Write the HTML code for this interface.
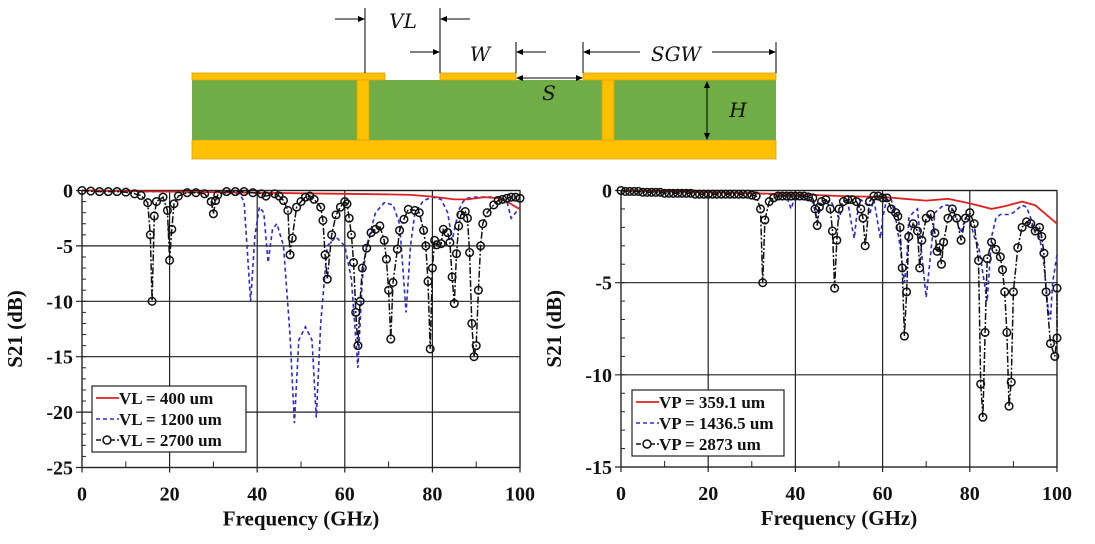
<!DOCTYPE html>
<html><head><meta charset="utf-8"><style>
html,body{margin:0;padding:0;background:#fff;width:1095px;height:544px;overflow:hidden}
svg{display:block}
text{font-family:"Liberation Serif",serif;font-weight:bold;fill:#111}
</style></head><body>
<svg id="root" width="1095" height="544" viewBox="0 0 1095 544">
<g>
  <rect x="192" y="140" width="584" height="19" fill="#FFC000" stroke="#d9a400" stroke-width="0.8"/>
  <rect x="192" y="80" width="584" height="60" fill="#70AD47"/>
  <rect x="192" y="73" width="193" height="7" fill="#FFC000" stroke="#d9a400" stroke-width="0.8"/>
  <rect x="440" y="73" width="76" height="7" fill="#FFC000" stroke="#d9a400" stroke-width="0.8"/>
  <rect x="583" y="73" width="193" height="7" fill="#FFC000" stroke="#d9a400" stroke-width="0.8"/>
  <rect x="357" y="80" width="12" height="60" fill="#FFC000" stroke="#d9a400" stroke-width="0.8"/>
  <rect x="602" y="80" width="12" height="60" fill="#FFC000" stroke="#d9a400" stroke-width="0.8"/>
  <g stroke="#000" stroke-width="1" fill="none">
    <line x1="365" y1="8" x2="365" y2="73"/><line x1="440" y1="8" x2="440" y2="73"/>
    <line x1="516" y1="42" x2="516" y2="73"/><line x1="583" y1="42" x2="583" y2="73"/>
    <line x1="776" y1="42" x2="776" y2="73"/>
    <line x1="335" y1="19" x2="362" y2="19"/><line x1="443" y1="19" x2="470" y2="19"/>
    <line x1="410" y1="52" x2="437" y2="52"/><line x1="519" y1="52" x2="546" y2="52"/>
    <line x1="519" y1="78" x2="580" y2="78"/>
    <line x1="586" y1="52" x2="640" y2="52"/><line x1="712" y1="52" x2="773" y2="52"/>
    <line x1="707" y1="84" x2="707" y2="138"/>
  </g>
  <g fill="#000">
    <polygon points="365,19 358,16 358,22"/><polygon points="440,19 447,16 447,22"/>
    <polygon points="440,52 433,49 433,55"/><polygon points="516,52 523,49 523,55"/>
    <polygon points="516,78 523,75 523,81"/><polygon points="583,78 576,75 576,81"/>
    <polygon points="583,52 590,49 590,55"/><polygon points="776,52 769,49 769,55"/>
    <polygon points="707,81 704,88 710,88"/><polygon points="707,140 704,133 710,133"/>
  </g>
  <g>
    <text x="403" y="28" font-size="20" text-anchor="middle" style="font-weight:normal;font-family:'DejaVu Serif',serif;font-style:italic">VL</text>
    <text x="480" y="61" font-size="20" text-anchor="middle" style="font-weight:normal;font-family:'DejaVu Serif',serif;font-style:italic">W</text>
    <text x="549" y="100" font-size="20" text-anchor="middle" style="font-weight:normal;font-family:'DejaVu Serif',serif;font-style:italic">S</text>
    <text x="676" y="61" font-size="20" text-anchor="middle" style="font-weight:normal;font-family:'DejaVu Serif',serif;font-style:italic">SGW</text>
    <text x="738" y="117" font-size="20" text-anchor="middle" style="font-weight:normal;font-family:'DejaVu Serif',serif;font-style:italic">H</text>
  </g>
</g>
<g id="chartL"></g>
<g id="chartR"></g>
</svg>
<script>
// Left chart data (GHz, dB)
const L_redX=[0,10,20,30,40,50,60,70,75,80,85,88,92,95,97,100];
const L_redY=[0,-0.05,-0.1,-0.15,-0.2,-0.25,-0.3,-0.35,-0.4,-0.55,-0.8,-0.8,-0.6,-0.7,-1.0,-1.7];
const L_blueX=[0,14,20,30,36,37,38.5,39.5,40.5,41.5,42.5,43.5,44.5,46,47.5,48.5,49.5,51,52.5,53.5,54.5,56,58,60,61.5,63,64,65,67,69,71,72.5,74,75,76,78,80,82,83.5,84.5,86,87,88,90,92,94,96,97,98,99,100];
const L_blueY=[0,-0.1,-0.1,-0.15,-0.3,-1,-10,-4,-1.5,-2,-6.5,-3.5,-3,-5,-13,-21,-13.5,-12.3,-13.5,-20.5,-12,-5,-4.2,-5,-8,-16,-8,-5,-2,-1.1,-1.3,-3,-11,-5,-2,-0.9,-0.6,-0.8,-2,-4.5,-1.8,-1,-0.7,-0.6,-0.6,-0.6,-0.7,-1,-2.5,-2,-1.5];
const L_blackX=[0,2,4,6,8,10,12,13.5,15,15.6,16,16.5,17,18.5,19.5,20,20.5,21,22,24,26,28,29.5,30,30.5,31,33,35,37,39,41,42,44,45,46,47,47.5,48,49,50,51,52,53,54.5,55,55.5,56,57,58,59,60,60.5,61,61.5,62,62.5,63,63.5,64,65,66,67,68,69,69.5,70,70.5,71,72,72.5,73.5,74.5,76,77,78,78.5,79,79.5,80,80.5,81,82,82.5,83.5,84,84.5,85,85.5,86,86.5,87.5,88,88.5,89,89.5,90,90.5,91,91.5,92.5,94,95,96,97,98,99,100];
const L_blackY=[0,-0.05,-0.1,-0.1,-0.1,-0.15,-0.3,-0.45,-1.1,-4,-10,-2.3,-1,-0.6,-1.8,-6.3,-3.5,-1.2,-0.5,-0.2,-0.2,-0.3,-1,-2.1,-0.9,-0.4,-0.1,-0.1,-0.1,-0.2,-0.3,-0.5,-0.3,-0.5,-0.9,-1.8,-5.8,-4.3,-1.5,-1,-0.6,-0.5,-0.8,-1.5,-2.7,-5.8,-8,-4,-2.2,-1.5,-1,-1.2,-2.5,-4,-6.5,-11,-14,-10,-7,-5.2,-3.8,-3.5,-3.2,-4.5,-6.2,-9,-13.4,-8.3,-5.3,-3.6,-2.6,-1.7,-1.8,-2,-3.6,-5,-8.2,-14.3,-7,-4.5,-4.9,-4.8,-3.5,-3.8,-4.7,-7.8,-10.2,-5.7,-3.2,-2.2,-1.9,-2.5,-5.6,-12,-15,-14,-9,-5,-3,-2,-1.3,-0.9,-0.8,-0.7,-0.6,-0.6,-0.7,-0.8];
// Right chart data
const R_redX=[0,10,20,30,40,50,60,65,70,75,80,85,88,92,95,98,100];
const R_redY=[0,-0.05,-0.1,-0.15,-0.2,-0.3,-0.35,-0.45,-0.55,-0.45,-0.7,-1.0,-0.85,-0.6,-0.8,-1.4,-1.8];
const R_blueX=[0,20,30,35,38,39,40,42,44,45,46,48,50,51,52,53,53.5,54,55,56.5,57,58,59.5,60,61,62,63,64,65,65.5,66,67,68,69,70,72,74,75,76,77,78,79,80,81,82,83,84,85,86,87,89,90,92,93,94,95,96,97,98,98.5,99,100];
const R_blueY=[0,-0.1,-0.15,-0.2,-0.3,-1,-0.3,-0.4,-0.6,-1.6,-0.8,-0.5,-1.5,-0.8,-0.6,-2,-2.6,-1.5,-0.5,-0.8,-1.3,-0.5,-2.6,-1.5,-0.4,-0.5,-1.5,-3,-5,-4,-1.5,-1.2,-1,-3.5,-5.8,-1.2,-0.8,-0.8,-1,-1.6,-2.3,-1.5,-1.6,-2.5,-3,-4.5,-6,-2.5,-1.5,-1.3,-1.3,-1.2,-0.8,-0.9,-1.5,-2.3,-2.5,-4,-6.5,-7,-5,-3.5];
const R_blackX=[0,1,2,3,4,5,6,7,8,9,10,11,12,13,14,15,16,17,18,19,20,21,22,23,24,25,26,27,28,29,30,31,32,32.5,33,34,35,36,37,38,39,40,41,42,43,44,44.5,45,45.5,46,47,48,48.5,49,49.5,50,51,52,53,54,55,55.5,56,57,58,59,60,61,62,63,63.5,64,64.5,65,65.5,66,67,68,68.5,69,70,71,72,72.5,73,73.5,74,75,76,77,78,79,80,81,82,82.5,83,83.5,84,85,86,87,87.5,88,88.5,89,89.5,90,91,92,93,94,95,96,96.5,97,97.5,98.5,99.5,100,100];
const R_blackY=[0,-0.05,-0.05,-0.05,-0.05,-0.1,-0.1,-0.1,-0.1,-0.1,-0.15,-0.15,-0.15,-0.15,-0.15,-0.15,-0.15,-0.2,-0.2,-0.2,-0.2,-0.2,-0.2,-0.2,-0.2,-0.2,-0.2,-0.2,-0.2,-0.2,-0.25,-0.3,-1,-5,-1.6,-0.6,-0.4,-0.3,-0.3,-0.3,-0.3,-0.3,-0.3,-0.3,-0.35,-0.4,-1,-1.9,-0.9,-0.6,-0.5,-1,-2.2,-5.3,-2.7,-1,-0.6,-0.5,-0.5,-0.6,-1,-1.5,-3,-0.6,-0.3,-0.3,-0.4,-0.4,-1,-1.2,-1.4,-2,-4.2,-7.9,-5.5,-2.5,-1.8,-2.2,-4.2,-2.7,-1.5,-1.3,-2.3,-3.3,-3.1,-4,-2.8,-1.5,-1,-1.5,-2.7,-1.5,-1.2,-1.8,-3.8,-10.5,-12.3,-7.7,-3.7,-2.8,-3.2,-3.6,-4.3,-5.5,-7.7,-11.7,-10.4,-5.5,-3.1,-2,-1.7,-1.8,-2.2,-2,-2.5,-3.4,-5.5,-8.3,-9,-8,-5.3,-3.4];
const L_yTicks=[0,-5,-10,-15,-20,-25];
const R_yTicks=[0,-5,-10,-15];
const xTicks=[0,20,40,60,80,100];
const L_legend=["VL = 400 um","VL = 1200 um","VL = 2700 um"];
const R_legend=["VP = 359.1 um","VP = 1436.5 um","VP = 2873 um"];

const NS="http://www.w3.org/2000/svg";
function mk(tag,attrs,parent){const e=document.createElementNS(NS,tag);for(const k in attrs)e.setAttribute(k,attrs[k]);parent.appendChild(e);return e;}

function chart(g,cfg){
  const x=v=>cfg.x0+(v/100)*(cfg.x1-cfg.x0);
  const y=v=>cfg.y0+(v/cfg.ymin)*(cfg.y1-cfg.y0);
  xTicks.forEach(t=>{
    const l=mk('line',{x1:x(t),x2:x(t),y1:cfg.y0,y2:cfg.y1+5,stroke:'#222','stroke-width':1.2},g);
    
    
    const tx=mk('text',{x:x(t),y:cfg.y1+33,'font-size':20,'text-anchor':'middle'},g);
    tx.textContent=t;
    
    
  });
  for(let t=10;t<100;t+=20){mk('line',{x1:x(t),x2:x(t),y1:cfg.y1,y2:cfg.y1-6,stroke:'#222'},g);}
  cfg.yTicks.forEach(t=>{
    const l=mk('line',{x1:cfg.x0-6,x2:cfg.x1,y1:y(t),y2:y(t),stroke:'#222','stroke-width':1.2},g);
    
    
    const tx=mk('text',{x:cfg.x0-9,y:y(t)+7,'font-size':20,'text-anchor':'end'},g);
    tx.textContent=t;
    
    
  });
  for(let t=0;t>=cfg.ymin;t-=1){mk('line',{x1:cfg.x0,x2:cfg.x0+4,y1:y(t),y2:y(t),stroke:'#222'},g);}
  mk('rect',{x:cfg.x0,y:cfg.y0,width:cfg.x1-cfg.x0,height:cfg.y1-cfg.y0,fill:'none',stroke:'#222','stroke-width':1.2},g);
  const pts=(X,Y)=>X.map((v,i)=>x(v).toFixed(1)+','+y(Y[i]).toFixed(1)).join(' ');
  const b=mk('polyline',{points:pts(cfg.bx,cfg.by),fill:'none',stroke:'#2b2bd8','stroke-width':1.6,'stroke-dasharray':'4,3'},g);
  
  
  const r=mk('polyline',{points:pts(cfg.rx,cfg.ry),fill:'none',stroke:'#e02020','stroke-width':1.8},g);
  
  
  const k=mk('polyline',{points:pts(cfg.kx,cfg.ky),fill:'none',stroke:'#111','stroke-width':1.5,'stroke-dasharray':'7,2,2,2'},g);
  
  
  cfg.kx.forEach((v,i)=>{
    const c=mk('circle',{cx:x(v),cy:y(cfg.ky[i]),r:3.8,fill:'none',stroke:'#111','stroke-width':1.5},g);
    
    
  });
  const xt=mk('text',{x:(cfg.x0+cfg.x1)/2,y:cfg.y1+58,'font-size':21,'text-anchor':'middle'},g);
  xt.textContent='Frequency (GHz)';
  
  
  const yc=(cfg.y0+cfg.y1)/2;
  const yt=mk('text',{x:cfg.x0-60,y:yc,'font-size':21,'text-anchor':'middle',transform:`rotate(-90 ${cfg.x0-60} ${yc})`},g);
  yt.textContent='S21 (dB)';
  
  
  const lg=mk('g',{},g);
  
  
  mk('rect',{x:cfg.lx,y:cfg.ly,width:cfg.lw,height:66,fill:'#fff',stroke:'#222','stroke-width':1.2},lg);
  const styles=[{stroke:'#e02020','stroke-width':1.8},{stroke:'#2b2bd8','stroke-width':1.6,'stroke-dasharray':'4,3'},{stroke:'#111','stroke-width':1.5,'stroke-dasharray':'5,2'}];
  cfg.legend.forEach((t,i)=>{
    const yy=cfg.ly+12+i*21;
    const e=mk('g',{},lg);
    
    
    mk('line',Object.assign({x1:cfg.lx+4,x2:cfg.lx+27,y1:yy,y2:yy},styles[i]),e);
    if(i===2)mk('circle',{cx:cfg.lx+15,cy:yy,r:4,fill:'#fff',stroke:'#111','stroke-width':1.5},e);
    const tx=mk('text',{x:cfg.lx+27,y:yy+6,'font-size':17},e);
    tx.textContent=t;
  });
}
chart(document.getElementById('chartL'),{x0:82,x1:520,y0:190.5,y1:467.5,ymin:-25,yTicks:L_yTicks,
  rx:L_redX,ry:L_redY,bx:L_blueX,by:L_blueY,kx:L_blackX,ky:L_blackY,legend:L_legend,lx:92,ly:386,lw:154});
chart(document.getElementById('chartR'),{x0:621,x1:1057,y0:190.5,y1:467,ymin:-15,yTicks:R_yTicks,
  rx:R_redX,ry:R_redY,bx:R_blueX,by:R_blueY,kx:R_blackX,ky:R_blackY,legend:R_legend,lx:632,ly:390,lw:152});
</script>
</body></html>
